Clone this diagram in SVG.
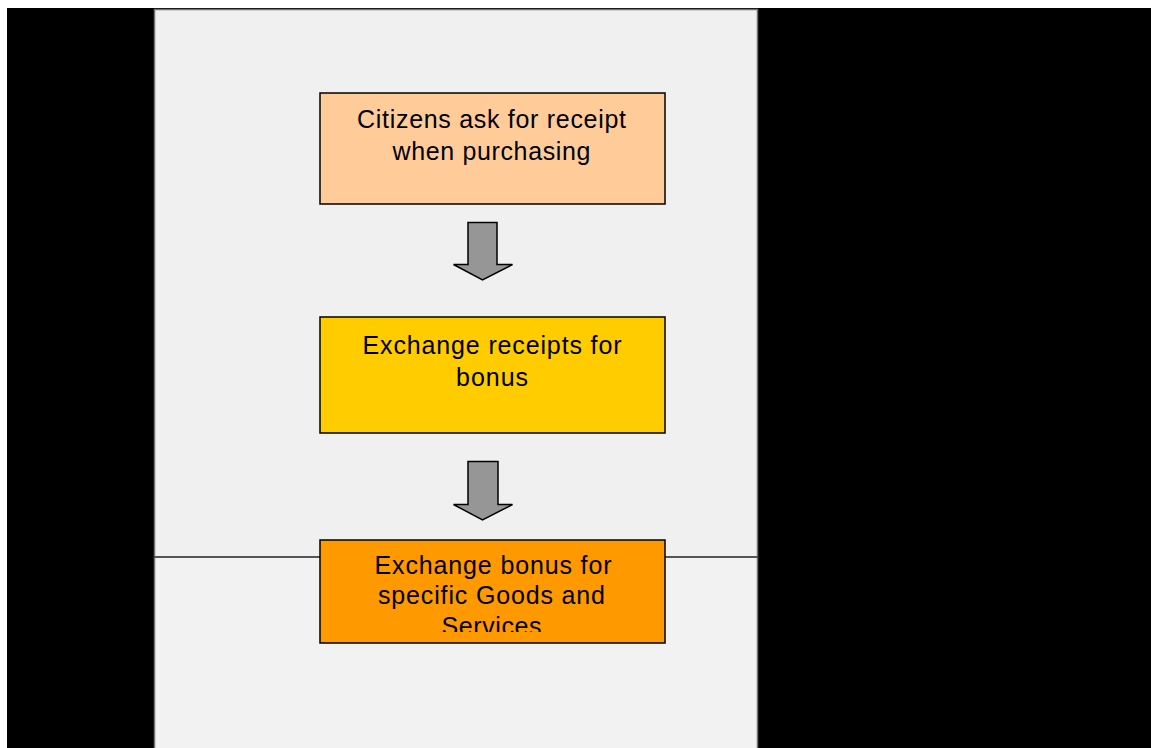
<svg xmlns="http://www.w3.org/2000/svg" width="1151" height="748" viewBox="0 0 1151 748">
  <style>
    .step { stroke: #000000; stroke-width: 1.5; }
    .label { font-family: "Liberation Sans", Arial, sans-serif; font-size: 25px; fill: #000000; text-anchor: middle; }
    .flow { fill: #969696; stroke: #000000; stroke-width: 1.5; stroke-linejoin: miter; }
  </style>
  <defs>
    <clipPath id="clip-step3">
      <rect x="320" y="540" width="345" height="92"/>
    </clipPath>
  </defs>

  <!-- backdrop -->
  <rect x="0" y="0" width="1151" height="748" fill="#ffffff"/>
  <rect x="7" y="8" width="1144" height="740" fill="#000000"/>

  <!-- lanes -->
  <g id="lanes">
    <rect x="154.5" y="9.5" width="603" height="548" fill="#f0f0f0"/>
    <rect x="154.5" y="557" width="603" height="200" fill="#f2f2f2"/>
    <rect x="154.5" y="9.5" width="603" height="750" fill="none" stroke="#707070" stroke-width="1.5"/>
    <line x1="154.5" y1="557" x2="757.5" y2="557" stroke="#222222" stroke-width="1.5"/>
  </g>

  <!-- connectors -->
  <g id="connectors">
    <polygon class="flow" points="468,222.5 497,222.5 497,264.5 512.5,264.5 482.5,280 453.5,264.5 468,264.5"/>
    <polygon class="flow" points="468,461.5 498,461.5 498,504.5 512.5,504.5 482.5,520 453.5,504.5 468,504.5"/>
  </g>

  <g id="step1">
    <rect class="step" x="320" y="93" width="345" height="111" fill="#ffcc99"/>
    <text class="label" x="491.5" y="128" textLength="269" lengthAdjust="spacing">Citizens ask for receipt</text>
    <text class="label" x="491.5" y="160" textLength="198" lengthAdjust="spacing">when purchasing</text>
  </g>

  <g id="step2">
    <rect class="step" x="320" y="317" width="345" height="116" fill="#ffcc00"/>
    <text class="label" x="492" y="354" textLength="259" lengthAdjust="spacing">Exchange receipts for</text>
    <text class="label" x="492" y="386" textLength="72" lengthAdjust="spacing">bonus</text>
  </g>

  <g id="step3">
    <rect class="step" x="320" y="540" width="345" height="103" fill="#ff9900"/>
    <g clip-path="url(#clip-step3)">
      <text class="label" x="493" y="574" textLength="237" lengthAdjust="spacing">Exchange bonus for</text>
      <text class="label" x="491.5" y="604" textLength="227" lengthAdjust="spacing">specific Goods and</text>
      <text class="label" x="491.5" y="635" textLength="100" lengthAdjust="spacing">Services</text>
    </g>
  </g>
</svg>
